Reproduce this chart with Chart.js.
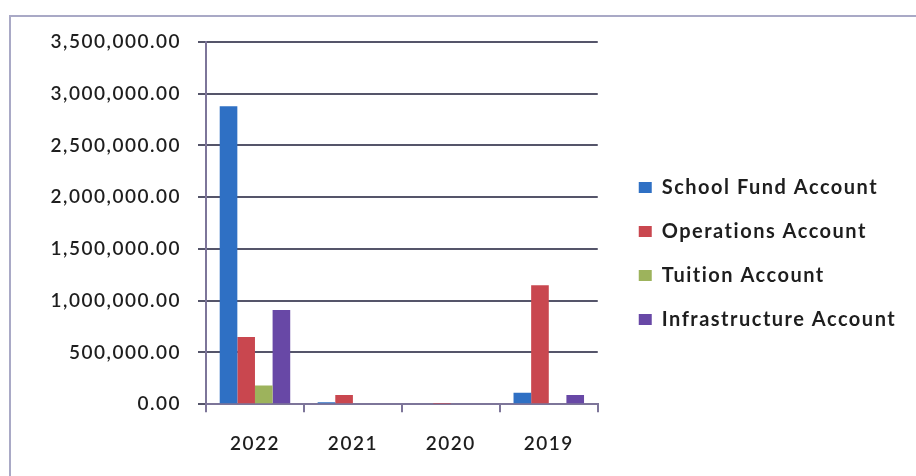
<!DOCTYPE html>
<html>
<head>
<meta charset="utf-8">
<script src="https://cdn.jsdelivr.net/npm/chart.js@4.4.1/dist/chart.umd.min.js"></script>
<style>
    html, body { margin: 0; padding: 0; background: #fff; }
    #wrap { position: relative; width: 916px; height: 476px; overflow: hidden; }
    #frame { position: absolute; left: 9px; top: 15px; width: 960px; height: 520px;
             border-top: 2px solid #a9a9c6; border-left: 2px solid #a9a9c6; }
    canvas { position: absolute; left: 0; top: 0; }
</style>
</head>
<body>
<div id="wrap">
    <div id="frame"></div>
    <canvas id="accounts-chart" width="916" height="476"></canvas>
</div>
<script>
const years = ['2022', '2021', '2020', '2019'];
const schoolFund = [2880000, 20000, 0, 110000];
const operations = [650000, 90000, 5000, 1150000];
const tuition = [180000, 0, 0, 0];
const infrastructure = [910000, 0, 0, 90000];
const yMax = 3500000;
const yStep = 500000;

const axisColor = '#7d7599';
const gridColor = '#55556a';
const textColor = '#1e1e1e';
const fontFamily = 'Lato, "Open Sans", sans-serif';

// wider letter spacing for all chart text
const spacing = {
    id: 'spacing',
    beforeUpdate(chart) { chart.ctx.letterSpacing = '1.5px'; },
    beforeLayout(chart) { chart.ctx.letterSpacing = '1.5px'; },
    beforeDraw(chart) { chart.ctx.letterSpacing = '1.5px'; }
};

// nudge the legend block away from the plot and let it run to the canvas edge
const legendShift = {
    id: 'legendShift',
    afterLayout(chart) {
        const lg = chart.legend;
        lg.left += 17;
        lg.right = chart.width;
        lg.width = lg.right - lg.left;
        lg.top -= 5; lg.bottom -= 5;
    }
};

function dataset(label, data, color) {
    return { label: label, data: data, backgroundColor: color, borderWidth: 0 };
}

new Chart(document.getElementById('accounts-chart').getContext('2d'), {
    type: 'bar',
    data: {
        labels: years,
        datasets: [
            dataset('School Fund Account', schoolFund, '#2f70c4'),
            dataset('Operations Account', operations, '#c9474f'),
            dataset('Tuition Account', tuition, '#9db35c'),
            dataset('Infrastructure Account', infrastructure, '#6848a6')
        ]
    },
    options: {
        responsive: false,
        animation: false,
        categoryPercentage: 0.72,
        barPercentage: 1.0,
        layout: { padding: { top: 42, bottom: 1, left: 0, right: 119 } },
        scales: {
            x: {
                grid: { drawOnChartArea: false, drawTicks: true, tickLength: 8, color: axisColor, lineWidth: 2 },
                border: { color: axisColor, width: 2 },
                ticks: { color: textColor, padding: 20, font: { family: fontFamily, size: 19, weight: '600' } }
            },
            y: {
                min: 0,
                max: yMax,
                afterFit(scale) { scale.width = 206; },
                grid: { color: gridColor, lineWidth: 2, tickLength: 8, tickColor: gridColor },
                border: { color: axisColor, width: 2 },
                ticks: {
                    stepSize: yStep,
                    color: textColor,
                    padding: 17,
                    font: { family: fontFamily, size: 19, weight: '600' },
                    callback: v => v.toLocaleString('en-US', { minimumFractionDigits: 2, maximumFractionDigits: 2 })
                }
            }
        },
        plugins: {
            legend: {
                position: 'right',
                labels: {
                    boxWidth: 13,
                    boxHeight: 11,
                    padding: 24,
                    color: textColor,
                    font: { family: fontFamily, size: 20, weight: 'bold' }
                }
            },
            tooltip: { enabled: false }
        }
    },
    plugins: [spacing, legendShift]
});
</script>
</body>
</html>
